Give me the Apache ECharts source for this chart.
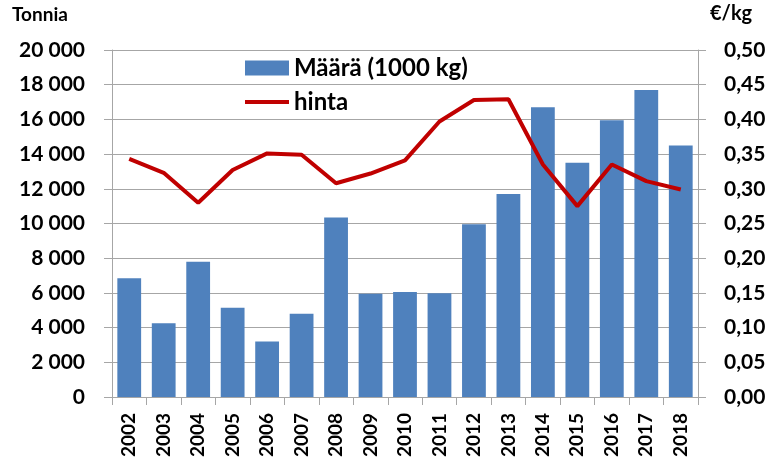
<!DOCTYPE html>
<html>
<head>
<meta charset="utf-8">
<script src="https://cdn.jsdelivr.net/npm/echarts@6/dist/echarts.min.js"></script>
<style>
  html, body { margin: 0; padding: 0; background: #fff; }
  #chart { width: 776px; height: 467px; }
</style>
</head>
<body>
<div id="chart"></div>
<script>
// Years on the category axis
const years = ['2002','2003','2004','2005','2006','2007','2008','2009','2010',
               '2011','2012','2013','2014','2015','2016','2017','2018'];
// Quantity in tonnes (1000 kg)
const maara = [6850, 4250, 7800, 5150, 3200, 4800, 10350, 5950, 6050,
               5980, 9950, 11700, 16700, 13500, 15950, 17700, 14500];
// Price, euros per kg
const hinta = [0.343, 0.323, 0.280, 0.327, 0.351, 0.349, 0.308, 0.322, 0.341,
               0.397, 0.428, 0.429, 0.335, 0.275, 0.335, 0.311, 0.299];

const FONT = 'Lato';
const gridColor = '#a6a6a6';
const labelStyle = { fontFamily: FONT, fontWeight: 'bold', color: '#000' };
const legendText = { fontFamily: FONT, fontWeight: 'bold', fontSize: 24, color: '#000' };

const chart = echarts.init(document.getElementById('chart'));
chart.setOption({
  animation: false,
  textStyle: { fontFamily: FONT },
  grid: { left: 112, right: 78, top: 50, bottom: 70 },
  legend: {
    orient: 'vertical',
    left: 240, top: 51,
    itemWidth: 44, itemHeight: 15, itemGap: 10,
    textStyle: legendText,
    data: [
      { name: 'Määrä (1000 kg)', icon: 'rect', textStyle: legendText },
      { name: 'hinta', icon: 'path://M0,0h44v4H0z', itemStyle: { color: '#c00000' }, textStyle: legendText }
    ]
  },
  xAxis: {
    type: 'category',
    data: years,
    axisLine: { lineStyle: { color: gridColor } },
    axisTick: { show: true, length: 8, lineStyle: { color: gridColor } },
    axisLabel: Object.assign({ rotate: 90, fontSize: 19, margin: 16 }, labelStyle)
  },
  yAxis: [{
    type: 'value', min: 0, max: 20000, interval: 2000,
    name: 'Tonnia',
    nameLocation: 'end',
    nameGap: 26,
    nameTextStyle: Object.assign({ fontSize: 19, align: 'left', padding: [0, 0, 0, -100] }, labelStyle),
    axisLine: { show: true, lineStyle: { color: gridColor } },
    axisTick: { show: true, length: 8, lineStyle: { color: gridColor } },
    splitLine: { lineStyle: { color: gridColor } },
    axisLabel: Object.assign({
      fontSize: 21, margin: 27,
      formatter: v => String(v).replace(/\B(?=(\d{3})+(?!\d))/g, ' ')
    }, labelStyle)
  }, {
    type: 'value', min: 0, max: 0.5, interval: 0.05,
    name: '€/kg',
    nameLocation: 'end',
    nameGap: 26,
    nameTextStyle: Object.assign({ fontSize: 20, align: 'left', padding: [0, 0, 0, 12] }, labelStyle),
    axisLine: { show: true, lineStyle: { color: gridColor } },
    axisTick: { show: true, length: 8, lineStyle: { color: gridColor } },
    splitLine: { show: false },
    axisLabel: Object.assign({
      fontSize: 21, margin: 26,
      formatter: v => v.toFixed(2).replace('.', ',')
    }, labelStyle)
  }],
  series: [{
    name: 'Määrä (1000 kg)',
    type: 'bar',
    data: maara,
    barCategoryGap: '31%',
    itemStyle: { color: '#4f81bd' }
  }, {
    name: 'hinta',
    type: 'line',
    yAxisIndex: 1,
    data: hinta,
    symbol: 'none',
    lineStyle: { color: '#c00000', width: 4 },
    itemStyle: { color: '#c00000' }
  }]
});
</script>
</body>
</html>
